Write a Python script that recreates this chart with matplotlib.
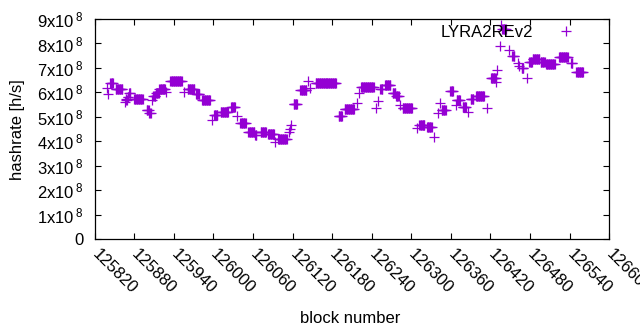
import matplotlib

matplotlib.use("Agg")

import matplotlib.pyplot as plt
from matplotlib.ticker import FuncFormatter

# runs of consecutive blocks with the same hashrate (units of 1e8 h/s)
run_start = [125844, 125852, 125868, 125870, 125872, 125880, 125899, 125903,
             125909, 125913, 125918, 125935, 125961, 125974, 125983, 126001,
             126011, 126027, 126041, 126053, 126063, 126072, 126083, 126098,
             126122, 126132, 126155, 126190, 126199, 126224, 126253, 126260,
             126272, 126277, 126287, 126312, 126324, 126346, 126359, 126369,
             126378, 126390, 126398, 126421, 126438, 126453, 126467, 126479,
             126484, 126496, 126504, 126524, 126542, 126550]
run_end = [125848, 125862, 125869, 125871, 125874, 125893, 125902, 125905,
           125912, 125917, 125927, 125952, 125971, 125979, 125995, 126006,
           126022, 126033, 126049, 126062, 126065, 126080, 126092, 126111,
           126127, 126141, 126186, 126195, 126213, 126243, 126256, 126268,
           126276, 126281, 126301, 126320, 126331, 126352, 126363, 126374,
           126383, 126394, 126410, 126428, 126443, 126456, 126470, 126483,
           126494, 126502, 126517, 126537, 126544, 126560]
run_val = [6.38, 6.15, 5.70, 5.82, 5.97, 5.73, 5.30, 5.18,
           5.86, 5.98, 6.15, 6.47, 6.15, 5.94, 5.70, 5.08,
           5.20, 5.40, 4.75, 4.39, 4.27, 4.39, 4.30, 4.10,
           5.53, 6.10, 6.39, 5.02, 5.32, 6.22, 6.15, 6.31,
           5.96, 5.86, 5.36, 4.67, 4.60, 5.30, 6.07, 5.70,
           5.42, 5.73, 5.86, 6.58, 8.60, 7.50, 7.00, 7.25,
           7.38, 7.25, 7.17, 7.44, 7.20, 6.85]

# isolated blocks
single_block = [125839, 125840, 125866, 125867, 125907, 125929, 125955, 125998,
                126036, 126093, 126114, 126116, 126118, 126144, 126146, 126217,
                126220, 126246, 126249, 126283, 126308, 126334, 126340, 126344,
                126368, 126386, 126414, 126429, 126430, 126434, 126436, 126448,
                126461, 126463, 126475]
single_val = [6.19, 5.94, 5.62, 5.75, 5.70, 6.03, 6.03, 4.88,
              5.04, 3.98, 4.39, 4.50, 4.67, 6.45, 6.20, 5.57,
              5.98, 5.37, 5.65, 5.49, 4.55, 4.17, 5.16, 5.57,
              5.50, 5.22, 5.37, 6.42, 6.92, 7.88, 8.75, 7.75,
              7.20, 7.08, 6.60]

x_ticks = list(range(125820, 126601, 60))
y_ticks = [i * 1e8 for i in range(10)]

plt.rcParams["font.family"] = ["Liberation Sans", "DejaVu Sans"]
plt.rcParams["font.size"] = 12
plt.rcParams["mathtext.fontset"] = "custom"
plt.rcParams["mathtext.rm"] = "Liberation Sans"

blocks = []
values = []
for s, e, v in zip(run_start, run_end, run_val):
    for b in range(s, e + 1):
        blocks.append(b)
        values.append(v * 1e8)
blocks += single_block
values += [v * 1e8 for v in single_val]

fig = plt.figure(figsize=(6.4, 3.3), dpi=100)
ax = fig.add_axes([0.1477, 0.2748, 0.8043, 0.6676])

ax.plot(blocks, values, linestyle="none", marker="+", markersize=6.5,
        markeredgewidth=0.9, color="#9400D3", label="LYRA2REv2")

ax.set_xlim(125820, 126600)
ax.set_ylim(0, 9e8)
ax.set_xticks(x_ticks)
ax.set_yticks(y_ticks)


def yfmt(v, pos):
    n = int(round(v / 1e8))
    if n == 0:
        return "0"
    return r"$\mathregular{%dx10^{\,8}}$" % n


ax.yaxis.set_major_formatter(FuncFormatter(yfmt))
ax.tick_params(direction="in", length=4, width=0.8, top=True, right=True,
               labelsize=12)
ax.tick_params(axis="y", pad=8)
ax.tick_params(axis="x", pad=9)
for lab in ax.get_xticklabels():
    lab.set_rotation(-45)
    lab.set_ha("left")
    lab.set_va("center")
    lab.set_rotation_mode("anchor")
for sp in ax.spines.values():
    sp.set_linewidth(0.9)

ax.set_xlabel("block number", fontsize=12)
ax.xaxis.set_label_coords(0.496, -0.327)
ax.set_ylabel("hashrate [h/s]", fontsize=12)
ax.yaxis.set_label_coords(-0.135, 0.5)

ax.legend(loc="upper right", bbox_to_anchor=(0.976, 0.972), markerfirst=False,
          frameon=False, borderpad=0, borderaxespad=0, handlelength=3.7,
          handletextpad=0.12, fontsize=12)

fig.savefig("out.png", dpi=100)
